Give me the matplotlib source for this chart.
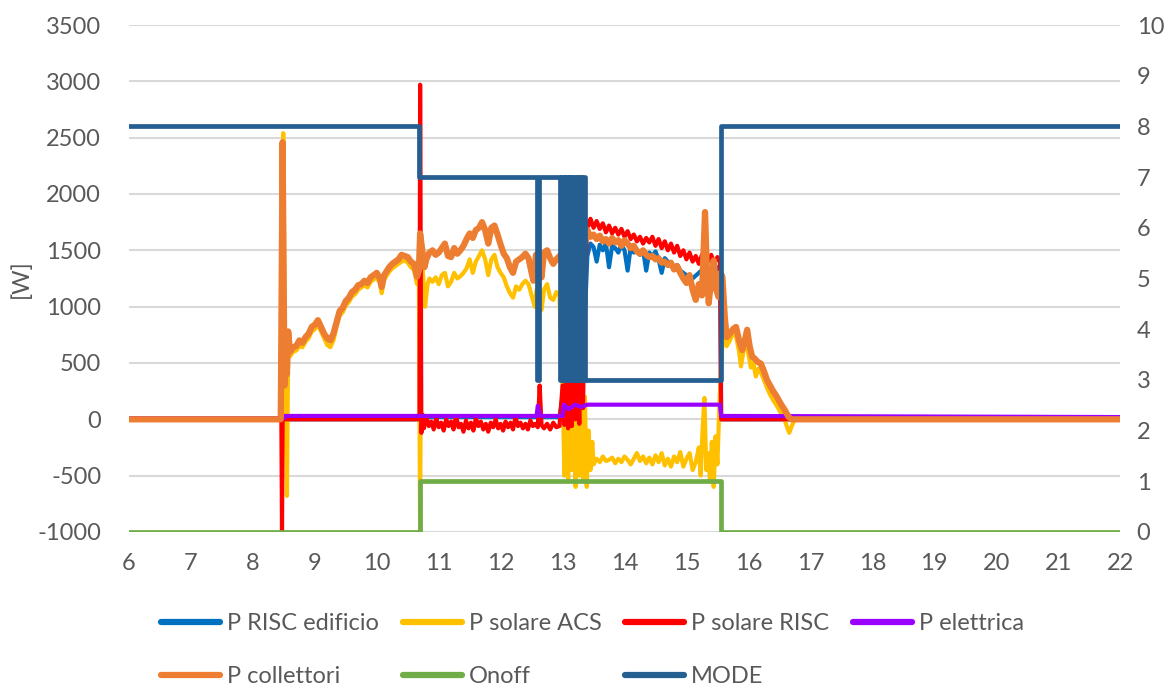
import matplotlib.pyplot as plt
from matplotlib.lines import Line2D

# ==========================================
# CONFIGURATION
# ==========================================
OUT_FILE = "out.png"

plt.rcParams['font.family'] = ['Lato', 'DejaVu Sans']
plt.rcParams['axes.unicode_minus'] = False

COL_RISC_EDIF = '#0070C0'
COL_ACS = '#FFC000'
COL_RISC = '#FF0000'
COL_ELETT = '#9A00FF'
COL_COLL = '#ED7D31'
COL_ONOFF = '#70AD47'
COL_MODE = '#255E91'
TEXT_GREY = '#595959'
GRID_GREY = '#D9D9D9'

LABELS = ["P RISC edificio", "P solare ACS", "P solare RISC", "P elettrica",
          "P collettori", "Onoff", "MODE"]

# --- DATA (hours of day) ---
# P collettori [W]
t_coll = [6.0, 8.45, 8.48, 8.51, 8.53, 8.55, 8.57, 8.6, 8.65, 8.7, 8.75, 8.8, 8.85, 8.9, 8.95,
          9.0, 9.05, 9.1, 9.15, 9.2, 9.25, 9.3, 9.35, 9.4, 9.45, 9.5, 9.55, 9.6, 9.65, 9.7,
          9.75, 9.8, 9.85, 9.9, 9.95, 10.0, 10.05, 10.08, 10.12, 10.2, 10.25, 10.3, 10.35, 10.4,
          10.45, 10.5, 10.55, 10.6, 10.65, 10.68, 10.7, 10.73, 10.77, 10.8, 10.85, 10.9, 10.95,
          11.0, 11.05, 11.1, 11.15, 11.2, 11.25, 11.3, 11.35, 11.4, 11.45, 11.5, 11.55, 11.6,
          11.65, 11.7, 11.75, 11.8, 11.85, 11.9, 11.95, 12.0, 12.05, 12.1, 12.15, 12.2, 12.25,
          12.3, 12.35, 12.4, 12.45, 12.5, 12.53, 12.57, 12.62, 12.66, 12.7, 12.75, 12.8, 12.85,
          12.9, 12.95, 13.0, 13.1, 13.2, 13.3, 13.4, 13.45, 13.5, 13.55, 13.6, 13.65, 13.7,
          13.75, 13.8, 13.85, 13.9, 13.95, 14.0, 14.05, 14.1, 14.15, 14.2, 14.25, 14.3, 14.35,
          14.4, 14.45, 14.5, 14.55, 14.6, 14.65, 14.7, 14.75, 14.8, 14.85, 14.9, 14.95, 15.0,
          15.05, 15.1, 15.15, 15.2, 15.25, 15.3, 15.33, 15.36, 15.4, 15.44, 15.48, 15.52, 15.55,
          15.58, 15.62, 15.65, 15.7, 15.75, 15.8, 15.85, 15.9, 15.95, 15.98, 16.02, 16.06, 16.1,
          16.15, 16.2, 16.25, 16.3, 16.35, 16.4, 16.46, 16.52, 16.59, 16.65, 16.7, 22.0]
p_coll = [0, 0, 2460, 300, 760, 400, 780, 600, 640, 650, 700, 680, 730, 760, 820,
          840, 880, 820, 760, 720, 700, 760, 860, 960, 990, 1050, 1080, 1130, 1150, 1190,
          1200, 1230, 1210, 1260, 1280, 1300, 1250, 1175, 1280, 1350, 1380, 1400, 1420, 1460,
          1450, 1440, 1400, 1380, 1265, 1320, 1650, 1520, 1350, 1420, 1480, 1500, 1460,
          1480, 1520, 1560, 1450, 1440, 1520, 1470, 1500, 1540, 1600, 1650, 1610, 1680,
          1700, 1750, 1680, 1560, 1700, 1720, 1640, 1550, 1470, 1430, 1350, 1300, 1400,
          1420, 1440, 1470, 1430, 1300, 1230, 1460, 1440, 1260, 1480, 1500, 1430, 1380,
          1420, 1450, 1400, 1300, 1500, 1400, 1680, 1620, 1640, 1600, 1630, 1580, 1600,
          1560, 1610, 1570, 1590, 1540, 1590, 1560, 1520, 1540, 1490, 1470, 1500, 1460,
          1440, 1450, 1420, 1430, 1390, 1400, 1370, 1390, 1330, 1360, 1300, 1250, 1210,
          1280, 1150, 1060, 1200, 1100, 1840, 1300, 1030, 1250, 1410, 1150, 1085, 1300,
          1265, 900, 730, 760, 800, 820, 700, 615, 720, 795, 650, 555, 540,
          510, 495, 430, 350, 300, 250, 200, 140, 80, 20, 0, 0]

# P solare ACS [W]
t_acs = [6.0, 8.46, 8.49, 8.52, 8.55, 8.57, 8.6, 8.65, 8.7, 8.75, 8.8, 8.85, 8.9, 8.95,
         9.0, 9.05, 9.1, 9.15, 9.2, 9.25, 9.3, 9.35, 9.4, 9.45, 9.5, 9.55, 9.6, 9.65, 9.7,
         9.75, 9.8, 9.85, 9.9, 9.95, 10.0, 10.05, 10.08, 10.12, 10.2, 10.25, 10.3, 10.35, 10.4,
         10.45, 10.5, 10.55, 10.6, 10.65, 10.68, 10.7, 10.72, 10.75, 10.78, 10.82, 10.85, 10.9,
         10.95, 11.0, 11.05, 11.1, 11.15, 11.2, 11.25, 11.3, 11.35, 11.4, 11.45, 11.5, 11.55,
         11.6, 11.65, 11.7, 11.75, 11.8, 11.85, 11.9, 11.95, 12.0, 12.05, 12.1, 12.15, 12.2,
         12.25, 12.3, 12.35, 12.4, 12.45, 12.5, 12.55, 12.58, 12.62, 12.66, 12.7, 12.75, 12.8,
         12.85, 12.9, 12.95, 13.0, 13.03, 13.06, 13.09, 13.12, 13.15, 13.18, 13.21, 13.24,
         13.27, 13.3, 13.33, 13.36, 13.39, 13.42, 13.45, 13.48, 13.5, 13.55, 13.6, 13.65, 13.7,
         13.75, 13.8, 13.85, 13.9, 13.95, 14.0, 14.05, 14.1, 14.15, 14.2, 14.25, 14.3, 14.35,
         14.4, 14.45, 14.5, 14.55, 14.6, 14.65, 14.7, 14.75, 14.8, 14.85, 14.9, 14.95, 15.0,
         15.05, 15.1, 15.15, 15.2, 15.23, 15.26, 15.29, 15.32, 15.35, 15.38, 15.41, 15.44, 15.47,
         15.5, 15.53, 15.56, 15.6, 15.65, 15.7, 15.75, 15.8, 15.85, 15.88, 15.92, 15.96, 16.0,
         16.04, 16.08, 16.12, 16.16, 16.2, 16.25, 16.3, 16.35, 16.4, 16.46, 16.52, 16.58, 16.62,
         16.66, 16.7, 16.75, 22.0]
p_acs = [0, 0, 2540, 400, -680, 700, 560, 600, 610, 650, 640, 690, 720, 780,
         800, 840, 780, 720, 660, 640, 700, 820, 920, 950, 1010, 1040, 1090, 1110, 1150,
         1170, 1190, 1170, 1220, 1240, 1260, 1210, 1120, 1240, 1310, 1340, 1360, 1380, 1400,
         1410, 1390, 1350, 1330, 1200, 1250, -1000, 1500, 1260, 1000, 1200, 1250, 1220,
         1260, 1200, 1280, 1300, 1180, 1220, 1300, 1250, 1270, 1300, 1340, 1420, 1300,
         1400, 1450, 1500, 1420, 1280, 1420, 1460, 1350, 1300, 1260, 1180, 1120, 1080,
         1180, 1150, 1200, 1230, 1200, 1100, 1000, 1150, 1200, 970, 1150, 1200, 1080,
         1060, 1130, 1100, 300, -500, 200, -550, 100, -450, 250, -600, 150,
         -500, 300, -550, 200, -600, -100, -450, -200, -400, -350, -380, -330, -370,
         -360, -340, -390, -350, -380, -330, -360, -400, -350, -300, -370, -330, -390,
         -340, -400, -320, -380, -300, -410, -350, -420, -330, -380, -290, -420, -350,
         -300, -450, -380, -250, -500, -100, 190, -450, -300, -550, -200, -600, -150,
         -400, 100, 500, 800, 650, 700, 760, 740, 600, 470, 600, 720, 580,
         460, 500, 380, 450, 420, 350, 280, 220, 170, 120, 60, 0, -60,
         -120, -60, 0, 0]

# P solare RISC [W]
t_risc = [6.0, 8.46, 8.47, 8.48, 10.69, 10.7, 10.72, 10.74, 10.76, 10.8, 10.84, 10.88, 10.92,
          10.96, 11.0, 11.04, 11.08, 11.12, 11.16, 11.2, 11.24, 11.28, 11.32, 11.36, 11.4,
          11.44, 11.48, 11.52, 11.56, 11.6, 11.64, 11.68, 11.72, 11.76, 11.8, 11.84, 11.88,
          11.92, 11.96, 12.0, 12.04, 12.08, 12.12, 12.16, 12.2, 12.24, 12.28, 12.32, 12.36,
          12.4, 12.44, 12.48, 12.52, 12.56, 12.6, 12.63, 12.66, 12.7, 12.75, 12.8, 12.85, 12.9,
          12.95, 13.0, 13.03, 13.06, 13.09, 13.12, 13.15, 13.18, 13.21, 13.24, 13.27, 13.3,
          13.33, 13.36, 13.4, 13.42, 13.45, 13.5, 13.55, 13.6, 13.65, 13.7, 13.75, 13.8, 13.85,
          13.9, 13.95, 14.0, 14.05, 14.1, 14.15, 14.2, 14.25, 14.3, 14.35, 14.4, 14.45, 14.5,
          14.55, 14.6, 14.65, 14.7, 14.75, 14.8, 14.85, 14.9, 14.95, 15.0, 15.05, 15.1, 15.15,
          15.2, 15.25, 15.3, 15.35, 15.4, 15.45, 15.5, 15.54, 15.56, 22.0]
p_risc = [0, 0, -1000, 0, 0, 2970, -120, 40, -80, 20, -60, -20, -90,
          10, -70, -30, -100, 0, -60, -20, -90, 30, -70, -40, -110,
          -10, -80, -30, -100, 10, -60, -20, -90, -40, -110, -30, -70,
          0, -80, -40, -100, -20, -70, -30, -90, 20, -60, -30, -80,
          -40, -90, -10, -60, -40, -70, 300, -50, -80, -40, -90, -30, -70,
          -60, 300, -50, 500, -80, 400, -60, 600, 0, 450, -40, 700,
          100, 1200, 1750, 1720, 1780, 1700, 1760, 1690, 1740, 1660, 1720, 1650, 1700,
          1640, 1690, 1620, 1670, 1600, 1640, 1580, 1620, 1560, 1610, 1570, 1620, 1540,
          1600, 1520, 1580, 1500, 1560, 1480, 1540, 1450, 1500, 1420, 1480, 1400, 1450,
          1380, 1460, 1500, 1400, 1460, 1380, 1440, 1400, 0, 0]

# P RISC edificio [W]
t_edif = [6.0, 10.7, 10.72, 12.95, 13.0, 13.1, 13.2, 13.3, 13.4, 13.45, 13.5, 13.55, 13.6,
          13.65, 13.7, 13.75, 13.8, 13.85, 13.9, 13.95, 14.0, 14.05, 14.1, 14.15, 14.2, 14.25,
          14.3, 14.35, 14.4, 14.45, 14.5, 14.55, 14.6, 14.65, 14.7, 14.75, 14.8, 14.85, 14.9,
          14.95, 15.0, 15.1, 15.2, 15.3, 15.4, 15.5, 15.55, 15.56, 22.0]
p_edif = [0, 0, 20, 20, 200, 50, 300, 100, 1450, 1560, 1530, 1400, 1550,
          1500, 1560, 1350, 1540, 1520, 1480, 1550, 1500, 1320, 1530, 1480, 1510, 1460,
          1500, 1320, 1480, 1450, 1490, 1420, 1300, 1430, 1400, 1380, 1350, 1370, 1320,
          1300, 1280, 1250, 1300, 1350, 1300, 1350, 1300, 0, 0]

# P elettrica [W]
t_elett = [6.0, 8.5, 8.52, 12.58, 12.6, 12.64, 13.0, 13.02, 13.1, 13.2, 13.3, 13.4, 15.54, 15.56, 22.0]
p_elett = [10, 10, 30, 30, 120, 30, 30, 130, 90, 130, 110, 130, 130, 30, 20]

# Onoff (right axis, step)
t_onoff = [6.0, 10.69, 15.56, 22.0]
v_onoff = [0, 1, 0, 0]

# MODE (right axis, step)
t_mode = [6.0, 10.68, 12.59, 12.62, 12.96, 12.98, 13.0, 13.02, 13.04, 13.06, 13.08, 13.1,
          13.12, 13.14, 13.16, 13.18, 13.2, 13.22, 13.24, 13.26, 13.28, 13.3, 13.32, 13.34,
          13.36, 13.38, 15.56, 22.0]
v_mode = [8, 7, 3, 7, 3, 7, 3, 7, 3, 7, 3, 7,
          3, 7, 3, 7, 3, 7, 3, 7, 3, 7, 3, 7,
          3, 3, 8, 8]

# ==========================================
# PLOT
# ==========================================
fig = plt.figure(figsize=(11.75, 6.89), dpi=100)
ax = fig.add_axes([0.1098, 0.2279, 0.8434, 0.7358])
ax2 = ax.twinx()

ax.plot(t_edif, p_edif, color=COL_RISC_EDIF, lw=3.0, solid_joinstyle='round')
ax.plot(t_acs, p_acs, color=COL_ACS, lw=3.0, solid_joinstyle='round')
ax.plot(t_risc, p_risc, color=COL_RISC, lw=3.0, solid_joinstyle='round')
ax.plot(t_elett, p_elett, color=COL_ELETT, lw=3.0, solid_joinstyle='round')
ax.plot(t_coll, p_coll, color=COL_COLL, lw=4.5, solid_joinstyle='round')

ax2.plot(t_onoff, v_onoff, color=COL_ONOFF, lw=3.4, drawstyle='steps-post')
ax2.plot(t_mode, v_mode, color=COL_MODE, lw=3.4, drawstyle='steps-post')

ax.set_xlim(6, 22)
ax.set_ylim(-1000, 3500)
ax2.set_ylim(0, 10)
ax.set_xticks(range(6, 23))
ax.set_yticks(range(-1000, 3501, 500))
ax2.set_yticks(range(0, 11))

ax.yaxis.grid(True, color=GRID_GREY, linewidth=1.5)
ax.set_axisbelow(True)
for a in (ax, ax2):
    for s in a.spines.values():
        s.set_visible(False)

ax.tick_params(axis='y', length=0, pad=20, labelsize=17, labelcolor=TEXT_GREY)
ax.tick_params(axis='x', length=0, pad=15, labelsize=17, labelcolor=TEXT_GREY)
ax2.tick_params(axis='y', length=0, pad=12, labelsize=17, labelcolor=TEXT_GREY)
ax.set_ylabel("[W]", fontsize=17, color=TEXT_GREY, labelpad=4)

# legend: row-major order for 4 columns
colors = [COL_RISC_EDIF, COL_ACS, COL_RISC, COL_ELETT, COL_COLL, COL_ONOFF, COL_MODE]
handles = [Line2D([], [], color=c, lw=4.5, solid_capstyle='round') for c in colors]
order = [0, 4, 1, 5, 2, 6, 3]
fig.legend([handles[i] for i in order], [LABELS[i] for i in order],
           loc='upper left', bbox_to_anchor=(0.137, 0.11), ncol=4, frameon=False,
           fontsize=17, labelcolor=TEXT_GREY, handlelength=2.5, handletextpad=0.3,
           columnspacing=1.0, labelspacing=1.35, borderpad=0, borderaxespad=0)

fig.savefig(OUT_FILE, dpi=100)
